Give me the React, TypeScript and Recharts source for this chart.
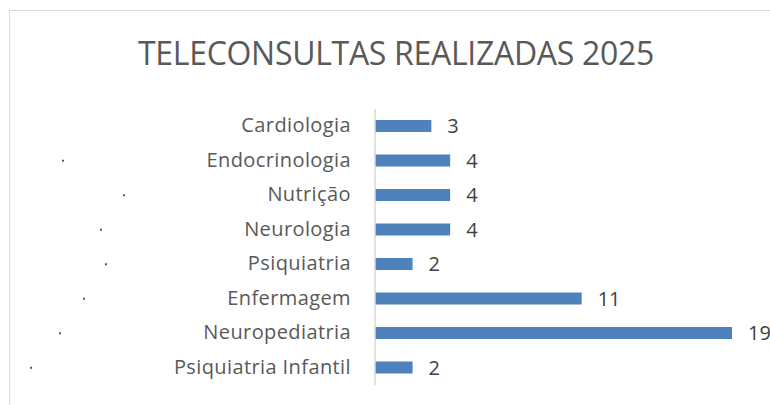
import { Bar, BarChart, LabelList, XAxis, YAxis } from 'recharts';

const categories = [
  'Cardiologia',
  'Endocrinologia',
  'Nutrição',
  'Neurologia',
  'Psiquiatria',
  'Enfermagem',
  'Neuropediatria',
  'Psiquiatria Infantil',
];
const values = [3, 4, 4, 4, 2, 11, 19, 2];
const title = 'TELECONSULTAS REALIZADAS 2025';

// stray dots to the left of the labels (x in px, null = none)
const DOT_X = [null, 62, 123, 100, 105, 83, 59, 30];

const data = categories.map((name, i) => ({ name, value: values[i] }));

const CategoryTick = (props: any) => {
  const { x, y, payload, index } = props;
  const dot = DOT_X[index];
  return (
    <g>
      <text x={x - 16} y={y} dy={6} textAnchor="end" fill="#595959" fontSize={20} letterSpacing={0.4} fontFamily="'Open Sans', sans-serif">
        {payload.value}
      </text>
      {dot != null && <rect x={dot} y={y - 1} width={2} height={2} fill="#595959" />}
    </g>
  );
};

const App = () => {
  return (
    <div style={{ position: 'absolute', left: 0, top: 0, width: 770, height: 405, background: '#fff', overflow: 'hidden' }}>
      <div style={{ position: 'absolute', left: 9, top: 10, width: 780, height: 420, border: '1.5px solid #d9d9d9', boxSizing: 'border-box' }} />
      <div style={{ position: 'absolute', left: 0, top: 33, width: 792, textAlign: 'center', fontFamily: "'Open Sans', sans-serif", fontSize: 32, color: '#595959', lineHeight: '40px', letterSpacing: -0.3 }}>
        {title}
      </div>
      <div style={{ position: 'absolute', left: 0, top: 0 }}>
        <BarChart width={770} height={405} data={data} layout="vertical" margin={{ top: 109, right: 38, bottom: 20, left: 0 }} barCategoryGap={0}>
          <XAxis type="number" domain={[0, 19]} hide />
          <YAxis type="category" dataKey="name" width={375} axisLine={{ stroke: '#d9d9d9', strokeWidth: 1.5 }} tickLine={false} tick={<CategoryTick />} interval={0} />
          <Bar dataKey="value" fill="#4f81bd" barSize={12} isAnimationActive={false}>
            <LabelList dataKey="value" position="right" offset={16} fill="#404040" fontSize={20} fontFamily="'Open Sans', sans-serif" />
          </Bar>
        </BarChart>
      </div>
    </div>
  );
};

export default App;
